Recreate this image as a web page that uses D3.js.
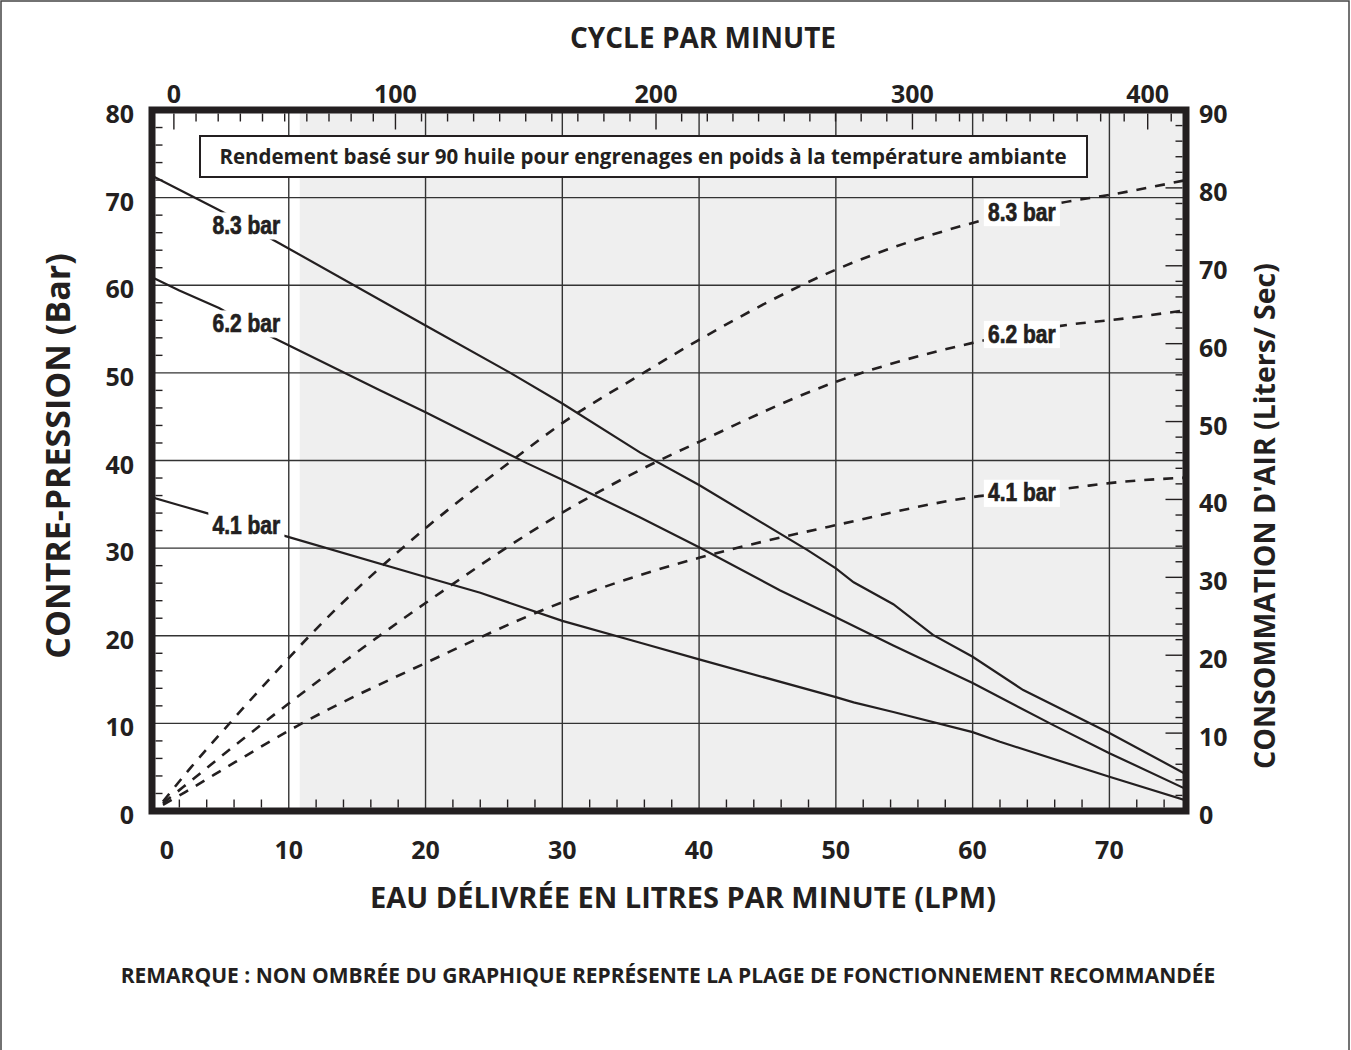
<!DOCTYPE html>
<html>
<head>
<meta charset="utf-8">
<script src="https://cdn.jsdelivr.net/npm/d3@7"></script>
<style>
  body { margin: 0; background: #fff; }
  svg { display: block; }
  text { font-family: "Open Sans", "DejaVu Sans", sans-serif; font-weight: 700; fill: #231f20; }
  .curve-label { font-family: "Liberation Sans", Arial, sans-serif; font-size: 25px; font-weight: 700; stroke: #231f20; stroke-width: 0.7px; }
</style>
</head>
<body>
<svg id="chart" width="1351" height="1050"></svg>
<script>
// ---- data ----
// back pressure (bar) against water delivered (LPM), one curve per air inlet pressure
const flow_83 = [0, 5, 9.3, 20, 26.2, 30, 35.7, 40, 47.9, 50, 51.3, 54.2, 57.1, 60, 63.7, 70, 75.6]
const back_83 = [72.5, 68.5, 64.8, 55.4, 50, 46.5, 40.9, 37.2, 29.8, 27.7, 26.1, 23.6, 20.1, 17.6, 13.8, 8.9, 4.2]
const flow_62 = [0, 2, 4.9, 8.5, 16.7, 20, 27.4, 30, 35.7, 40, 45.9, 50, 54.2, 60, 65.9, 70, 75.6]
const back_62 = [60.9, 59.4, 57.4, 54.3, 48.0, 45.5, 39.7, 37.8, 33.5, 30.1, 25.2, 22.1, 18.9, 14.6, 9.8, 6.6, 2.5]
const flow_41 = [0, 2, 4, 9.7, 20, 24, 30, 35.7, 40, 50, 51.3, 54.2, 60, 62, 70, 75.6]
const back_41 = [35.8, 34.9, 34.0, 31.4, 26.7, 24.9, 21.7, 19.2, 17.3, 13.0, 12.4, 11.3, 9.0, 7.9, 3.9, 1.2]

// air consumption (liters/sec) against water delivered (LPM)
const airFlow_83 = [0.8, 2.8, 5.9, 9.4, 11.8, 20, 26.4, 30, 35.7, 40, 50, 60, 66.5, 70, 75.6]
const air_83 = [1.2, 5.5, 11.7, 18.5, 23.0, 36.3, 45.1, 49.8, 56.0, 60.5, 69.5, 75.5, 78.1, 79.1, 81.0]
const airFlow_62 = [0.8, 2.3, 5.9, 9.4, 20, 30, 35.7, 40, 50, 60, 67.3, 70, 75.6]
const air_62 = [1.0, 3.1, 8.2, 13.0, 26.7, 38.3, 43.8, 47.4, 55.1, 60.1, 62.5, 63.0, 64.3]
const airFlow_41 = [0.8, 2.4, 6.1, 10.6, 20, 30, 35.7, 40, 50, 60, 67.3, 70, 75.6]
const air_41 = [0.8, 2.4, 6.3, 10.9, 19.0, 26.8, 30.3, 32.5, 36.7, 40.3, 41.5, 42.1, 42.8]

const pressureLabels = ["8.3 bar", "6.2 bar", "4.1 bar"]

// axes
const flowTicks = [0, 10, 20, 30, 40, 50, 60, 70]
const barTicks = [0, 10, 20, 30, 40, 50, 60, 70, 80]
const airTicks = [0, 10, 20, 30, 40, 50, 60, 70, 80, 90]
const cycleTicks = [0, 100, 200, 300, 400]
const cycleAsFlow = [1.6, 17.8, 36.85, 55.6, 72.8]   // where each cycle label sits on the LPM scale
const shadeStart = 10.8                               // LPM where the shaded area begins

const svg = d3.select("#chart")
const plot = { left: 152, right: 1186, top: 110, bottom: 811 }
const ink = "#231f20"

const x = d3.scaleLinear().domain([0, 75.6]).range([plot.left, plot.right])
const yBar = d3.scaleLinear().domain([0, 80]).range([plot.bottom, plot.top])
const yAir = d3.scaleLinear().domain([0, 90]).range([plot.bottom, plot.top])
const xCycle = d3.scaleLinear().domain(cycleTicks).range(cycleAsFlow.map(x))

function zipSeries(xs, ys) {
    return xs.map((d, i) => [d, ys[i]])
}
function valueAt(xs, ys, v) {
    return d3.scaleLinear().domain(xs).range(ys)(v)
}

// outer frame
svg.append("rect")
    .attr("x", 1).attr("y", 1)
    .attr("width", 1348).attr("height", 1070)
    .attr("fill", "none").attr("stroke", "#444").attr("stroke-width", 1.5)

svg.append("defs").append("clipPath").attr("id", "plot-clip")
    .append("rect")
    .attr("x", plot.left).attr("y", plot.top)
    .attr("width", plot.right - plot.left).attr("height", plot.bottom - plot.top)

// shaded (not recommended) area
svg.append("rect")
    .attr("x", x(shadeStart)).attr("y", plot.top)
    .attr("width", plot.right - x(shadeStart)).attr("height", plot.bottom - plot.top)
    .attr("fill", "#efefef")

// grid
const grid = svg.append("g").attr("stroke", "#333").attr("stroke-width", 1.4)
grid.selectAll(".vgrid")
    .data(flowTicks.filter(d => d > 0))
    .enter().append("line")
    .attr("x1", d => x(d)).attr("x2", d => x(d))
    .attr("y1", plot.top).attr("y2", plot.bottom)
grid.selectAll(".hgrid")
    .data(barTicks.filter(d => d > 0 && d < 80))
    .enter().append("line")
    .attr("x1", plot.left).attr("x2", plot.right)
    .attr("y1", d => yBar(d)).attr("y2", d => yBar(d))

// small inner ticks
const ticks = svg.append("g").attr("stroke", ink).attr("stroke-width", 1.4)
const inset = 3.5

ticks.selectAll(".tb")
    .data(d3.range(2, 76, 2).filter(d => d % 10 !== 0))
    .enter().append("line")
    .attr("x1", d => x(d)).attr("x2", d => x(d))
    .attr("y1", plot.bottom - inset).attr("y2", plot.bottom - inset - 8)

ticks.selectAll(".tl")
    .data(d3.range(2, 80, 2).filter(d => d % 10 !== 0))
    .enter().append("line")
    .attr("x1", plot.left + inset).attr("x2", plot.left + inset + 7)
    .attr("y1", d => yBar(d)).attr("y2", d => yBar(d))

ticks.selectAll(".tr")
    .data(d3.range(2, 90, 2))
    .enter().append("line")
    .attr("x1", plot.right - inset)
    .attr("x2", d => plot.right - inset - (d % 10 === 0 ? 17 : 7))
    .attr("y1", d => yAir(d)).attr("y2", d => yAir(d))

ticks.selectAll(".tt")
    .data(d3.range(0, 420, 10).filter(d => xCycle(d) < plot.right - 6))
    .enter().append("line")
    .attr("x1", d => xCycle(d)).attr("x2", d => xCycle(d))
    .attr("y1", plot.top + inset)
    .attr("y2", d => plot.top + inset + (d % 100 === 0 ? 16 : 8))

// curves
const curves = svg.append("g").attr("clip-path", "url(#plot-clip)")
const solidLine = d3.line().x(d => x(d[0])).y(d => yBar(d[1]))
const dashLine = d3.line().x(d => x(d[0])).y(d => yAir(d[1])).curve(d3.curveMonotoneX)

const backSeries = [zipSeries(flow_83, back_83), zipSeries(flow_62, back_62), zipSeries(flow_41, back_41)]
const airSeries = [zipSeries(airFlow_83, air_83), zipSeries(airFlow_62, air_62), zipSeries(airFlow_41, air_41)]

curves.selectAll(".back")
    .data(backSeries)
    .enter().append("path")
    .attr("d", solidLine)
    .attr("fill", "none").attr("stroke", ink).attr("stroke-width", 2.2)

curves.selectAll(".air")
    .data(airSeries)
    .enter().append("path")
    .attr("d", dashLine)
    .attr("fill", "none").attr("stroke", ink).attr("stroke-width", 2.6)
    .attr("stroke-dasharray", "10,9")

// curve labels, sitting on their curve with a white patch behind
const leftLabelFlow = 6.9
const rightLabelFlow = 63.6
const labelData = []
const backXs = [flow_83, flow_62, flow_41], backYs = [back_83, back_62, back_41]
const airXs = [airFlow_83, airFlow_62, airFlow_41], airYs = [air_83, air_62, air_41]
pressureLabels.forEach(function (name, i) {
    labelData.push({ text: name, cx: x(leftLabelFlow), cy: yBar(valueAt(backXs[i], backYs[i], leftLabelFlow)) })
    labelData.push({ text: name, cx: x(rightLabelFlow), cy: yAir(valueAt(airXs[i], airYs[i], rightLabelFlow)) })
})

const labels = svg.append("g")
labelData.forEach(function (d) {
    // condensed look: squeeze the text horizontally
    const g = labels.append("g")
        .attr("transform", "translate(" + d.cx + "," + d.cy + ") scale(0.84,1)")
    const bg = g.append("rect").attr("fill", "#fff")
    const t = g.append("text")
        .attr("class", "curve-label")
        .attr("text-anchor", "middle")
        .attr("dy", "0.36em")
        .text(d.text)
    const b = t.node().getBBox()
    bg.attr("x", b.x - 5).attr("y", b.y + 1).attr("width", b.width + 10).attr("height", b.height - 1)
})

// note box
const noteBox = svg.append("g")
noteBox.append("rect")
    .attr("x", 200).attr("y", 136).attr("width", 887).attr("height", 41)
    .attr("fill", "#fff").attr("stroke", ink).attr("stroke-width", 2)
noteBox.append("text")
    .attr("x", 643).attr("y", 157).attr("dy", "0.36em")
    .attr("text-anchor", "middle").style("font-size", "20.5px")
    .text("Rendement basé sur 90 huile pour engrenages en poids à la température ambiante")

// plot border
svg.append("rect")
    .attr("x", plot.left).attr("y", plot.top)
    .attr("width", plot.right - plot.left).attr("height", plot.bottom - plot.top)
    .attr("fill", "none").attr("stroke", ink).attr("stroke-width", 7)

// tick labels
const tickFont = "25px"
svg.append("g").selectAll("text")
    .data(barTicks)
    .enter().append("text")
    .attr("x", plot.left - 18).attr("y", d => yBar(d) + 4)
    .attr("dy", "0.36em").attr("text-anchor", "end")
    .style("font-size", tickFont)
    .text(d => d)

svg.append("g").selectAll("text")
    .data(airTicks)
    .enter().append("text")
    .attr("x", plot.right + 13).attr("y", d => yAir(d) + 4)
    .attr("dy", "0.36em").attr("text-anchor", "start")
    .style("font-size", tickFont)
    .text(d => d)

svg.append("g").selectAll("text")
    .data(flowTicks)
    .enter().append("text")
    .attr("x", d => x(d) + (d === 0 ? 15 : 0)).attr("y", plot.bottom + 39)
    .attr("dy", "0.36em").attr("text-anchor", "middle")
    .style("font-size", tickFont)
    .text(d => d)

svg.append("g").selectAll("text")
    .data(cycleTicks)
    .enter().append("text")
    .attr("x", d => xCycle(d)).attr("y", plot.top - 16)
    .attr("dy", "0.36em").attr("text-anchor", "middle")
    .style("font-size", tickFont)
    .text(d => d)

// titles
svg.append("text")
    .attr("x", 703).attr("y", 38).attr("dy", "0.36em")
    .attr("text-anchor", "middle").style("font-size", "28px")
    .text("CYCLE PAR MINUTE")

svg.append("text")
    .attr("x", 683).attr("y", 898).attr("dy", "0.36em")
    .attr("text-anchor", "middle").style("font-size", "29px")
    .text("EAU DÉLIVRÉE EN LITRES PAR MINUTE (LPM)")

svg.append("text")
    .attr("transform", "translate(58,456) rotate(-90)")
    .attr("dy", "0.36em")
    .attr("text-anchor", "middle").style("font-size", "34px")
    .text("CONTRE-PRESSION (Bar)")

svg.append("text")
    .attr("transform", "translate(1265,516) rotate(-90)")
    .attr("dy", "0.36em")
    .attr("text-anchor", "middle").style("font-size", "28.5px")
    .text("CONSOMMATION D'AIR (Liters/ Sec)")

svg.append("text")
    .attr("x", 668).attr("y", 975).attr("dy", "0.36em")
    .attr("text-anchor", "middle").style("font-size", "21px")
    .text("REMARQUE : NON OMBRÉE DU GRAPHIQUE REPRÉSENTE LA PLAGE DE FONCTIONNEMENT RECOMMANDÉE")
</script>
</body>
</html>
